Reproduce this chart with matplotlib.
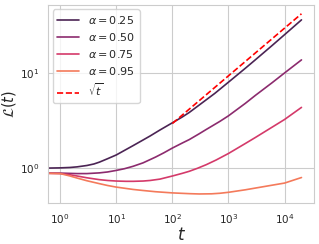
import matplotlib
matplotlib.use('Agg')
import matplotlib.pyplot as plt
import seaborn as sns

# values (log-log)
t_025 = [0.61, 1, 1.5, 2, 3, 4, 5, 7, 10, 14, 20, 30, 40, 60, 100, 150, 200, 300, 570, 1000, 2000, 3000, 6000, 10000, 20000]
L_025 = [1.005, 1.01, 1.02, 1.035, 1.07, 1.11, 1.16, 1.26, 1.38, 1.54, 1.73, 1.98, 2.18, 2.52, 3.0, 3.45, 3.85, 4.6, 6.1, 8.0, 11.2, 13.7, 19.4, 25.2, 36.0]

t_050 = [0.61, 1, 2, 3, 5, 7, 10, 14, 20, 30, 50, 70, 100, 150, 200, 300, 400, 700, 1000, 2000, 3000, 6000, 10000, 20000]
L_050 = [0.89, 0.89, 0.88, 0.88, 0.895, 0.915, 0.95, 0.99, 1.05, 1.14, 1.31, 1.45, 1.63, 1.84, 2.0, 2.3, 2.55, 3.1, 3.55, 4.8, 5.8, 7.9, 10.0, 13.7]

t_075 = [0.61, 1, 1.5, 2, 3, 5, 7, 10, 15, 20, 30, 40, 60, 100, 150, 200, 280, 400, 600, 1000, 2000, 3000, 6000, 10000, 20000]
L_075 = [0.885, 0.88, 0.855, 0.83, 0.795, 0.76, 0.745, 0.735, 0.73, 0.73, 0.735, 0.745, 0.77, 0.83, 0.885, 0.93, 1.0, 1.09, 1.22, 1.43, 1.82, 2.1, 2.7, 3.25, 4.35]

t_095 = [0.61, 1, 1.5, 2, 3, 5, 7, 10, 20, 30, 50, 100, 200, 300, 500, 700, 1000, 2000, 3000, 6000, 10000, 20000]
L_095 = [0.885, 0.88, 0.83, 0.79, 0.74, 0.69, 0.66, 0.635, 0.60, 0.585, 0.568, 0.552, 0.542, 0.538, 0.54, 0.547, 0.56, 0.595, 0.62, 0.665, 0.70, 0.80]

t_sqrt = [100, 20000]
L_sqrt = [2.95, 41.7]

labels = [r'$\alpha = 0.25$', r'$\alpha = 0.50$', r'$\alpha = 0.75$', r'$\alpha = 0.95$']
colors = ['#4b2454', '#8c2b6e', '#d43a6a', '#f47a5b']

sns.set_style('whitegrid')
plt.rcParams['font.family'] = ['DejaVu Sans']

fig = plt.figure(figsize=(3.19, 2.44), dpi=100)
ax = fig.add_axes([0.151, 0.169, 0.833, 0.811])

series = [(t_025, L_025), (t_050, L_050), (t_075, L_075), (t_095, L_095)]
for (t, L), lab, c in zip(series, labels, colors):
    ax.plot(t, L, color=c, lw=1.2, label=lab)
ax.plot(t_sqrt, L_sqrt, color='red', ls='--', lw=1.2, label=r'$\sqrt{t}$')

ax.set_xscale('log')
ax.set_yscale('log')
ax.set_xlim(0.611, 33300)
ax.set_ylim(0.435, 51.7)
ax.minorticks_off()
ax.tick_params(labelsize=7.5, pad=3)
ax.set_xlabel(r'$t$', fontsize=12, labelpad=0)
ax.set_ylabel(r'$\mathcal{L}(t)$', fontsize=10.5, labelpad=1)
ax.legend(loc='upper left', fontsize=8, handlelength=2.0, labelspacing=0.45,
          borderaxespad=0.4)

fig.savefig('out.png', dpi=100)
